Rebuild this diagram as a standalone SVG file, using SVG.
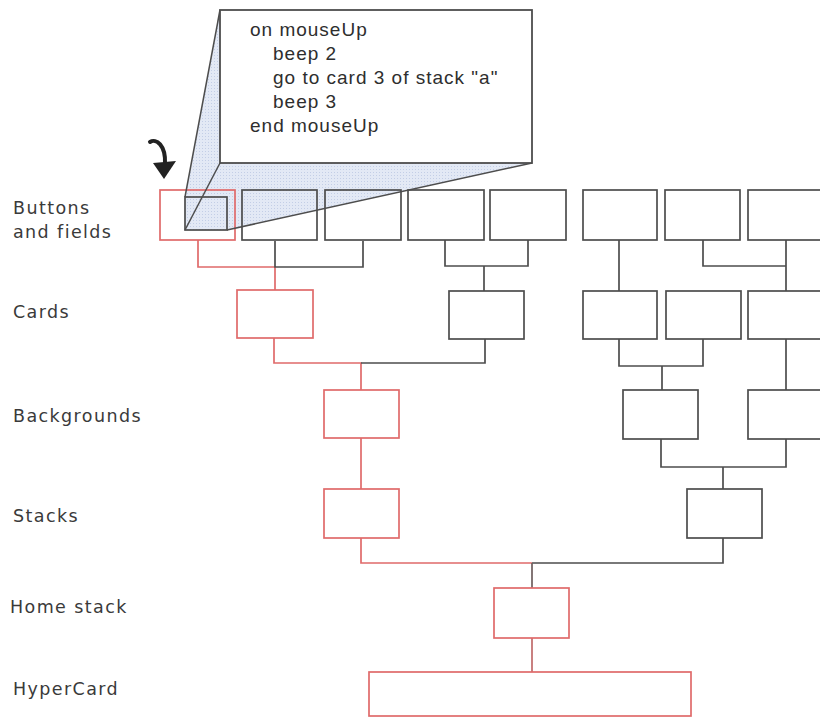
<svg xmlns="http://www.w3.org/2000/svg" width="820" height="718" viewBox="0 0 820 718">
<defs>
<pattern id="dots" width="3" height="3" patternUnits="userSpaceOnUse">
<rect width="3" height="3" fill="#e3e9f5"/>
<rect x="1" y="1" width="1" height="1" fill="#c3cee6"/>
</pattern>
<style>
.lbl{font-family:"DejaVu Sans","Liberation Sans",sans-serif;font-size:17.5px;fill:#3a3a3a;letter-spacing:1.4px}
.code{font-family:"Liberation Sans",Arial,sans-serif;font-size:19px;fill:#2e2e2e;letter-spacing:1px}
.r{fill:none;stroke:#e06a6a;stroke-width:1.7}
.d{fill:none;stroke:#4d4d4d;stroke-width:1.7}
.cr{fill:none;stroke:#e06a6a;stroke-width:1.7}
.cd{fill:none;stroke:#4d4d4d;stroke-width:1.7}
</style>
</defs>
<rect width="820" height="718" fill="#ffffff"/>

<!-- callout shading -->
<polygon points="220,10 532,10 532,163 227,230 185,230 185,197" fill="url(#dots)"/>

<!-- labels -->
<g id="labels">
<text class="lbl" x="13" y="214">Buttons</text>
<text class="lbl" x="13" y="238">and fields</text>
<text class="lbl" x="13" y="318">Cards</text>
<text class="lbl" x="13" y="422">Backgrounds</text>
<text class="lbl" x="13" y="522">Stacks</text>
<text class="lbl" x="10" y="613">Home stack</text>
<text class="lbl" x="13" y="695">HyperCard</text>
</g>

<!-- connectors -->
<g id="connectors">
<path class="cr" d="M198,240 V267 H275 V290"/>
<path class="cd" d="M275,241 V267 H363 V241"/>
<path class="cd" d="M445,240 V266 H528 V240 M484,266 V291"/>
<path class="cd" d="M619,240 V291"/>
<path class="cd" d="M703,240 V266 H786 M786,240 V291"/>
<path class="cr" d="M274,338 V363 H361 V390"/>
<path class="cd" d="M485,339 V363 H361"/>
<path class="cd" d="M619,339 V366 H703 V339 M662,366 V390"/>
<path class="cd" d="M786,339 V390"/>
<path class="cr" d="M361,438 V489"/>
<path class="cd" d="M661,439 V467 H786 V439 M723,467 V489"/>
<path class="cr" d="M361,538 V563 H532"/>
<path class="cd" d="M723,538 V563 H532"/>
<path d="M532,563 V588" fill="none" stroke="#6e5e5e" stroke-width="1.7"/>
<path d="M532,638 V672" fill="none" stroke="#c06a6a" stroke-width="1.7"/>
</g>

<!-- buttons and fields row -->
<g id="btn1"><rect class="r" x="160" y="190" width="75" height="50"/></g>
<g id="btn2"><rect class="d" x="242" y="190" width="75" height="50"/></g>
<g id="btn3"><rect class="d" x="325" y="190" width="76" height="50"/></g>
<g id="btn4"><rect class="d" x="408" y="190" width="76" height="50"/></g>
<g id="btn5"><rect class="d" x="490" y="190" width="76" height="50"/></g>
<g id="btn6"><rect class="d" x="583" y="190" width="74" height="50"/></g>
<g id="btn7"><rect class="d" x="665" y="190" width="75" height="50"/></g>
<g id="btn8"><rect class="d" x="748" y="190" width="80" height="50"/></g>

<!-- cards row -->
<g id="card1"><rect class="r" x="237" y="290" width="76" height="48"/></g>
<g id="card2"><rect class="d" x="449" y="291" width="75" height="48"/></g>
<g id="card3"><rect class="d" x="583" y="291" width="74" height="48"/></g>
<g id="card4"><rect class="d" x="666" y="291" width="75" height="48"/></g>
<g id="card5"><rect class="d" x="748" y="291" width="80" height="48"/></g>

<!-- backgrounds row -->
<g id="bg1"><rect class="r" x="324" y="390" width="75" height="48"/></g>
<g id="bg2"><rect class="d" x="623" y="390" width="75" height="49"/></g>
<g id="bg3"><rect class="d" x="748" y="390" width="80" height="49"/></g>

<!-- stacks row -->
<g id="stack1"><rect class="r" x="324" y="489" width="75" height="49"/></g>
<g id="stack2"><rect class="d" x="687" y="489" width="75" height="49"/></g>

<!-- home stack -->
<g id="home"><rect class="r" x="494" y="588" width="75" height="50"/></g>

<!-- hypercard -->
<g id="hypercard"><rect class="r" x="369" y="672" width="322" height="44"/></g>

<!-- callout -->
<g id="callout">
<rect x="185" y="197" width="42" height="33" fill="none" stroke="#4d4d4d" stroke-width="1.7"/>
<line x1="220" y1="10" x2="185" y2="197" stroke="#4d4d4d" stroke-width="1.5"/>
<line x1="220" y1="163" x2="185" y2="230" stroke="#4d4d4d" stroke-width="1.5"/>
<line x1="532" y1="163" x2="227" y2="230" stroke="#4d4d4d" stroke-width="1.5"/>
<rect x="220" y="10" width="312" height="153" fill="#ffffff" stroke="#4d4d4d" stroke-width="1.8"/>
<text class="code" x="250" y="36">on mouseUp</text>
<text class="code" x="273" y="60">beep 2</text>
<text class="code" x="273" y="84">go to card 3 of stack "a"</text>
<text class="code" x="273" y="108">beep 3</text>
<text class="code" x="250" y="132">end mouseUp</text>
</g>

<!-- pointer arrow -->
<g id="pointer">
<path d="M150,142 C156,138 166,145 165,164" fill="none" stroke="#222" stroke-width="4" stroke-linecap="round"/>
<polygon points="153,163 176,161 164,179" fill="#222"/>
</g>
</svg>
